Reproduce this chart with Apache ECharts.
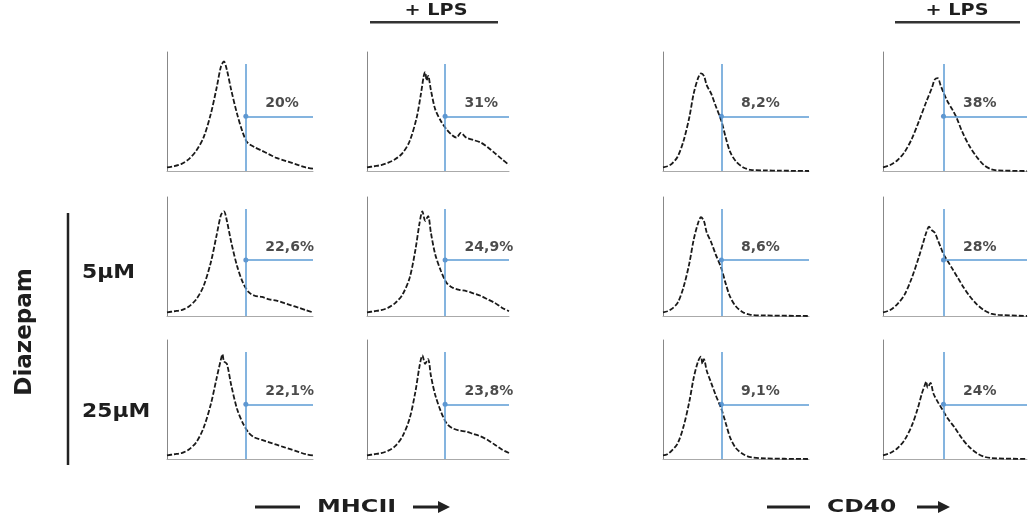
<!DOCTYPE html>
<html><head><meta charset="utf-8">
<script src="https://cdn.jsdelivr.net/npm/echarts@6/dist/echarts.min.js"></script>
<style>html,body{margin:0;padding:0;background:#fff}#c{width:1030px;height:518px}</style>
</head><body><div id="c"></div>
<script>
// ---- data ----
const rowLabels = ['', '5μM', '25μM'];
const markerNames = ['MHCII', 'CD40'];
const topLabel = '+ LPS';
const sideLabel = 'Diazepam';
const pctLabels = [
  ['20%', '31%', '8,2%', '38%'],
  ['22,6%', '24,9%', '8,6%', '28%'],
  ['22,1%', '23,8%', '9,1%', '24%']
];
const gateX = [54, 55, 40, 42];   // gate position per column (axis units)
const gateY = [46, 47, 46];       // gate level per row (axis units)

const mhcCtrl0 = [[0,3],[5,4],[10,6],[15,10],[20,17],[25,28],[30,48],[34,70],[37,88],[39,92],[41,85],[44,68],[48,48],[52,32],[55,24],[60,20],[65,17],[70,14],[75,11],[80,9],[85,7],[90,5],[95,3],[100,2]];
const mhcLps0 = [[0,3],[5,4],[10,5],[15,7],[20,10],[25,15],[30,25],[35,45],[38,65],[40,80],[41,83],[42,76],[43,80],[45,68],[48,52],[52,42],[56,35],[60,30],[63,28],[66,32],[70,28],[75,26],[80,24],[85,20],[90,15],[95,10],[100,5]];
const cd40Ctrl0 = [[0,3],[3,4],[6,6],[10,12],[14,25],[18,45],[21,65],[24,78],[26,82],[28,80],[30,72],[33,65],[36,55],[40,42],[43,28],[46,16],[50,8],[55,3],[60,1],[70,0.5],[80,0.3],[100,0]];
const cd40Lps0 = [[0,3],[5,5],[10,9],[15,16],[20,27],[25,42],[30,58],[34,70],[36,77],[38,78],[40,72],[42,66],[45,58],[48,52],[51,45],[55,33],[60,21],[65,12],[70,5],[75,1.5],[80,0.5],[100,0]];

const mhcCtrl5 = [[0,3],[5,4],[10,5],[15,8],[20,14],[25,25],[30,45],[34,68],[37,85],[39,88],[41,80],[44,62],[48,42],[52,28],[56,20],[60,17],[65,16],[70,14],[75,13],[80,11],[85,9],[90,7],[95,5],[100,3]];
const mhcLps5 = [[0,3],[5,4],[10,5],[15,7],[20,11],[25,18],[30,32],[34,55],[37,78],[39,88],[41,80],[43,84],[45,70],[48,52],[52,38],[56,28],[60,24],[65,22],[70,21],[75,19],[80,17],[85,14],[90,11],[95,7],[100,4]];
const cd40Ctrl5 = [[0,3],[3,4],[6,6],[10,11],[14,24],[18,44],[21,64],[24,78],[26,83],[28,80],[30,70],[33,62],[36,52],[40,40],[43,27],[46,16],[50,8],[55,3],[60,1],[70,0.5],[100,0]];
const cd40Lps5 = [[0,3],[5,5],[10,10],[15,18],[20,32],[25,50],[28,62],[30,70],[32,75],[34,72],[36,70],[38,64],[40,58],[42,52],[45,46],[48,40],[52,32],[56,24],[60,17],[65,10],[70,5],[75,2],[80,1],[100,0]];

const mhcCtrl25 = [[0,3],[5,4],[10,5],[15,8],[20,14],[25,26],[30,46],[34,68],[37,84],[38,88],[39,82],[41,80],[44,62],[48,42],[52,30],[56,22],[60,18],[65,16],[70,14],[75,12],[80,10],[85,8],[90,6],[95,4],[100,3]];
const mhcLps25 = [[0,3],[5,4],[10,5],[15,7],[20,11],[25,19],[30,34],[34,56],[37,78],[39,87],[41,80],[43,84],[45,70],[48,54],[52,40],[56,30],[60,26],[65,24],[70,23],[75,21],[80,19],[85,16],[90,12],[95,8],[100,5]];
const cd40Ctrl25 = [[0,3],[3,4],[6,7],[10,13],[14,27],[18,48],[21,68],[24,82],[26,86],[27,80],[28,84],[30,74],[33,64],[36,54],[40,42],[43,30],[46,18],[50,9],[55,4],[60,1.5],[70,0.5],[100,0]];
const cd40Lps25 = [[0,3],[5,5],[10,9],[15,16],[20,28],[24,42],[27,55],[29,62],[30,65],[31,60],[33,64],[35,55],[38,48],[40,44],[42,40],[45,34],[50,26],[55,17],[60,10],[65,5],[70,2],[75,0.8],[100,0]];

const curves = [
  [mhcCtrl0, mhcLps0, cd40Ctrl0, cd40Lps0],
  [mhcCtrl5, mhcLps5, cd40Ctrl5, cd40Lps5],
  [mhcCtrl25, mhcLps25, cd40Ctrl25, cd40Lps25]
];

// ---- layout ----
const colLeft = [167, 367, 663, 883];
const colWidth = [146, 142, 146, 144];
const rowTop = [52, 197, 340];
const panelH = 119;
const BLUE = '#5b9bd5';

const grid = [], xAxis = [], yAxis = [], series = [];
let k = 0;
for (let r = 0; r < 3; r++) {
  for (let c = 0; c < 4; c++) {
    grid.push({ left: colLeft[c], top: rowTop[r], width: colWidth[c], height: panelH });
    xAxis.push({ gridIndex: k, type: 'value', min: 0, max: 100,
      axisLine: { show: true, lineStyle: { color: '#aaa', width: 1 } },
      axisTick: { show: false }, axisLabel: { show: false }, splitLine: { show: false } });
    yAxis.push({ gridIndex: k, type: 'value', min: 0, max: 100,
      axisLine: { show: true, onZero: false, lineStyle: { color: '#888', width: 1 } },
      axisTick: { show: false }, axisLabel: { show: false }, splitLine: { show: false } });
    const gx = gateX[c], gy = gateY[r];
    series.push({
      type: 'line', xAxisIndex: k, yAxisIndex: k, data: curves[r][c],
      symbol: 'none', smooth: 0.3,
      lineStyle: { color: '#1a1a1a', width: 1.8, type: [5, 2] },
      markLine: {
        silent: true, symbol: 'none', label: { show: false },
        lineStyle: { color: BLUE, width: 1.5, type: 'solid' },
        data: [
          [{ coord: [gx, 0] }, { coord: [gx, 90] }],
          [{ coord: [gx, gy] }, { coord: [100, gy] }]
        ]
      },
      z: 3
    });
    series.push({
      type: 'scatter', xAxisIndex: k, yAxisIndex: k, data: [[gx, gy]],
      symbolSize: 5, itemStyle: { color: '#3a78c0' },
      label: { show: true, position: 'right', offset: [12, -13],
        formatter: pctLabels[r][c],
        fontFamily: 'DejaVu Sans', fontWeight: 'bold', fontSize: 14, color: '#1e1e1e' },
      emphasis: { disabled: true },
      z: 4
    });
    k++;
  }
}

const txt = (x, y, s, size, align, sx) => ({
  type: 'text', x: x, y: y, scaleX: sx || 1,
  style: { text: s, font: 'bold ' + size + 'px "DejaVu Sans"', fill: '#1e1e1e',
    textAlign: align || 'left', textVerticalAlign: 'middle' }
});

const graphic = [
  // + LPS headers
  txt(436, 11, topLabel, 16, 'center', 1.2),
  { type: 'rect', shape: { x: 370, y: 21, width: 128, height: 2.5 }, style: { fill: '#333' } },
  txt(957, 11, topLabel, 16, 'center', 1.2),
  { type: 'rect', shape: { x: 895, y: 21, width: 125, height: 2.5 }, style: { fill: '#333' } },
  // side label
  { type: 'text', x: 25, y: 332, rotation: Math.PI / 2,
    style: { text: sideLabel, font: 'bold 23px "DejaVu Sans"', fill: '#1e1e1e', textAlign: 'center', textVerticalAlign: 'middle' } },
  { type: 'line', shape: { x1: 68, y1: 213, x2: 68, y2: 465 }, style: { stroke: '#222', lineWidth: 2.5 } },
  txt(82, 273, rowLabels[1], 19, 'left', 1.15),
  txt(82, 412, rowLabels[2], 19, 'left', 1.15),
  // bottom axis labels
  { type: 'line', shape: { x1: 255, y1: 507, x2: 300, y2: 507 }, style: { stroke: '#222', lineWidth: 3 } },
  txt(317, 507, markerNames[0], 18, 'left', 1.33),
  { type: 'line', shape: { x1: 413, y1: 507, x2: 440, y2: 507 }, style: { stroke: '#222', lineWidth: 3 } },
  { type: 'polygon', shape: { points: [[438, 501], [450, 507], [438, 513]] }, style: { fill: '#222' } },
  { type: 'line', shape: { x1: 767, y1: 507, x2: 810, y2: 507 }, style: { stroke: '#222', lineWidth: 3 } },
  txt(827, 507, markerNames[1], 18, 'left', 1.3),
  { type: 'line', shape: { x1: 917, y1: 507, x2: 940, y2: 507 }, style: { stroke: '#222', lineWidth: 3 } },
  { type: 'polygon', shape: { points: [[938, 501], [950, 507], [938, 513]] }, style: { fill: '#222' } }
];

const chart = echarts.init(document.getElementById('c'), null, { renderer: 'canvas' });
chart.setOption({ animation: false, backgroundColor: '#fff', grid, xAxis, yAxis, series, graphic });
</script></body></html>
